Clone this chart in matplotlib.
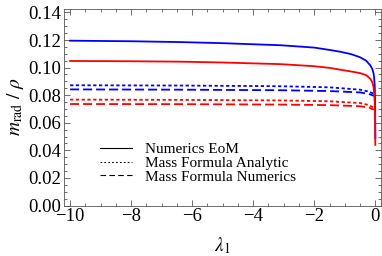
import matplotlib.pyplot as plt
from matplotlib.lines import Line2D
from matplotlib.ticker import MultipleLocator

plt.rcParams['font.family'] = ['Liberation Serif', 'DejaVu Serif']
plt.rcParams['mathtext.fontset'] = 'stix'

# solid curves (numerics EoM)
x_eom = [-10, -8, -6.4, -5, -3.1, -2, -1.5, -1.15, -0.8, -0.5, -0.3, -0.16,
         -0.1, -0.06, -0.04, -0.02, -0.01, -0.005, 0]
blue_eom = [0.1195, 0.1191, 0.1185, 0.1177, 0.1162, 0.1145, 0.1128, 0.1115,
            0.1098, 0.1075, 0.1050, 0.1015, 0.0990, 0.0960, 0.0930, 0.0870,
            0.0780, 0.0700, 0.0490]
red_eom = [0.1048, 0.1046, 0.1043, 0.1037, 0.1025, 0.1010, 0.0998, 0.0985,
           0.0972, 0.0960, 0.0945, 0.0918, 0.0895, 0.0860, 0.0820, 0.0750,
           0.0660, 0.0580, 0.0440]

# mass formula curves
x_mf = [-10, -6.4, -3.1, -1.5, -0.5, -0.2, -0.05]
blue_analytic = [0.0872, 0.0870, 0.0865, 0.0857, 0.0840, 0.0825, 0.0810]
blue_numerics = [0.0842, 0.0840, 0.0836, 0.0830, 0.0820, 0.0808, 0.0796]
red_analytic = [0.0768, 0.0766, 0.0762, 0.0756, 0.0743, 0.0728, 0.0707]
red_numerics = [0.0736, 0.0735, 0.0732, 0.0728, 0.0720, 0.0709, 0.0695]

legend_labels = ["Numerics EoM", "Mass Formula Analytic", "Mass Formula Numerics"]

dotted = (0, (1.8, 1.4))
dashed = (0, (5, 2.2))

fig = plt.figure(figsize=(3.82, 2.56), dpi=100)
ax = fig.add_axes([0.1675, 0.197, 0.831, 0.768])

lw = 1.3
ax.plot(x_eom, blue_eom, color='blue', lw=lw)
ax.plot(x_eom, red_eom, color='red', lw=lw)
ax.plot(x_mf, blue_analytic, color='blue', lw=lw, ls=dotted)
ax.plot(x_mf, blue_numerics, color='blue', lw=lw, ls=dashed)
ax.plot(x_mf, red_analytic, color='red', lw=lw, ls=dotted)
ax.plot(x_mf, red_numerics, color='red', lw=lw, ls=dashed)

ax.set_xlim(-10.2, 0.2)
ax.set_ylim(0, 0.1425)
ax.xaxis.set_major_locator(MultipleLocator(2))
ax.xaxis.set_minor_locator(MultipleLocator(0.5))
ax.yaxis.set_major_locator(MultipleLocator(0.02))
ax.yaxis.set_minor_locator(MultipleLocator(0.005))
ax.yaxis.set_major_formatter(plt.FuncFormatter(lambda v, p: f"{v:.2f}"))
ax.xaxis.set_major_formatter(plt.FuncFormatter(lambda v, p: f"{v:.0f}".replace('-', '\u2212')))

ax.tick_params(which='both', direction='in', top=True, right=True,
               labelsize=13.5, color='#555555', width=0.6, pad=2)
ax.tick_params(which='major', length=4)
ax.tick_params(which='minor', length=2)
for s in ax.spines.values():
    s.set_linewidth(0.6)
    s.set_color('#555555')

ax.set_xlabel(r"$\lambda_1$", fontsize=14, labelpad=7)
ax.set_ylabel(r"$m_{\rm rad}\ /\ \rho$", fontsize=14, labelpad=2)

handles = [Line2D([], [], color='black', lw=0.8),
           Line2D([], [], color='black', lw=0.8, ls=(0, (1.5, 2))),
           Line2D([], [], color='black', lw=0.8, ls=(0, (5, 3)))]
ax.legend(handles, legend_labels, loc='center left', bbox_to_anchor=(0.113, 0.216),
          frameon=False, fontsize=11, handlelength=2.1, handletextpad=0.85,
          labelspacing=0.0, borderpad=0, borderaxespad=0)

fig.savefig("out.png", dpi=100)
